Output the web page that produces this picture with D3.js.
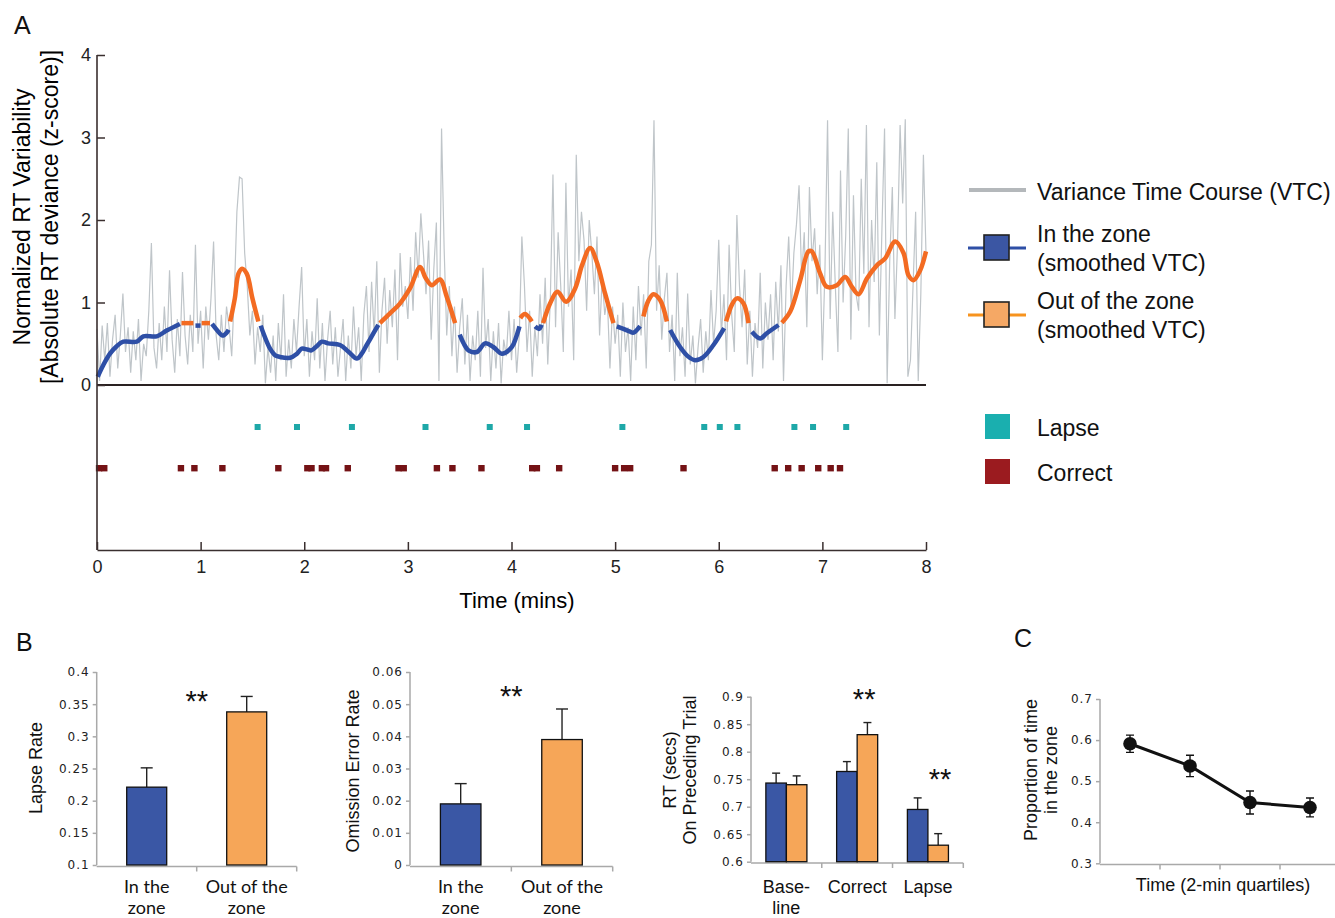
<!DOCTYPE html>
<html>
<head>
<meta charset="utf-8">
<script src="https://cdn.jsdelivr.net/npm/d3@7"></script>
<style>
  body { margin: 0; background: #fff; }
  svg { display: block; font-family: "Liberation Sans", Arial, sans-serif; }
</style>
</head>
<body>
<div class="canvas"></div>
<script>
// ---------- data ----------
// raw variance time course, one value every 0.025 min
const vtcStep = 0.025;
const vtc = [
  0.68,0.05,0.72,0.30,0.75,0.10,0.55,0.85,0.20,0.60,1.11,0.40,0.70,0.15,0.65,0.30,0.80,0.05,0.50,0.35,
  0.90,1.72,0.45,0.20,0.75,0.30,0.95,0.40,1.39,0.55,0.15,0.80,0.35,1.37,0.60,0.25,0.85,0.40,1.70,0.50,
  0.90,0.20,0.95,0.55,1.05,1.74,0.60,0.30,0.85,0.40,0.95,0.70,0.35,1.10,2.10,2.52,2.50,1.60,1.20,0.60,
  0.90,0.25,0.70,0.40,0.85,0.02,0.45,0.15,0.60,0.05,0.75,0.30,1.10,0.10,0.55,0.20,0.80,0.40,0.95,1.43,
  0.35,0.80,0.10,0.65,0.30,1.05,0.20,0.75,0.05,0.55,0.90,0.25,0.70,0.10,0.45,0.80,0.05,0.60,0.20,0.95,
  0.35,0.70,0.05,0.85,1.20,0.40,1.25,0.60,1.50,0.15,0.90,1.30,0.50,1.15,0.70,1.40,0.30,1.60,0.95,1.20,
  0.80,1.55,0.90,1.85,1.30,2.08,1.60,1.10,1.75,0.55,1.40,1.97,0.05,3.11,1.65,0.60,1.20,0.35,0.95,0.15,
  0.70,1.05,0.25,0.85,0.05,0.60,0.30,0.90,0.10,1.42,0.45,0.80,0.05,0.65,0.20,0.75,0.02,0.55,0.35,0.90,
  0.30,0.80,0.15,0.60,1.80,1.20,0.40,0.90,0.10,0.70,0.35,1.10,0.50,1.30,0.25,1.05,2.55,0.70,1.85,1.20,
  0.40,2.45,0.95,1.40,0.30,2.79,1.50,2.10,1.75,0.90,2.00,1.60,1.10,1.80,0.60,1.30,0.85,1.05,0.20,0.95,
  0.50,0.85,0.10,1.00,0.40,0.70,0.05,0.95,0.30,1.20,0.60,1.10,0.20,1.50,1.70,3.21,0.90,1.45,0.55,1.05,
  1.36,0.40,0.85,0.05,1.36,0.35,0.70,0.10,1.11,0.25,0.60,0.02,0.45,0.80,0.15,0.65,0.30,1.15,0.50,0.90,
  1.76,0.60,1.10,0.30,1.70,0.85,0.40,2.06,1.20,0.70,1.40,0.25,0.90,0.10,0.75,0.45,1.36,0.20,1.00,0.55,
  1.10,0.30,1.25,0.65,1.45,0.05,1.20,1.80,0.90,1.60,1.95,2.42,1.30,1.85,0.70,2.40,1.50,1.90,1.10,1.70,
  0.30,1.40,3.21,0.80,2.10,1.20,0.40,2.60,1.00,1.80,3.11,0.55,2.30,1.10,0.90,2.50,1.35,3.15,0.70,2.00,
  1.25,2.70,0.60,1.90,3.11,0.02,1.50,2.40,0.80,1.70,3.15,2.20,3.22,0.10,0.30,1.20,2.10,0.05,1.10,2.79,
  1.60
];

// smoothed VTC, [minute, value], split into in-the-zone and out-of-the-zone runs
const inZoneSegs = [
  [[0.007,0.10],[0.06,0.24],[0.125,0.38],[0.19,0.47],[0.254,0.525],[0.383,0.525],[0.447,0.59],[0.576,0.59],[0.672,0.66],[0.80,0.74]],
  [[0.95,0.72],[1.0,0.72]],
  [[1.11,0.74],[1.155,0.67],[1.213,0.60],[1.255,0.64],[1.27,0.67]],
  [[1.58,0.72],[1.605,0.63],[1.67,0.44],[1.72,0.36],[1.766,0.34],[1.863,0.33],[1.93,0.38],[1.976,0.44],[2.03,0.43],[2.07,0.42],[2.12,0.47],[2.17,0.525],[2.23,0.505],[2.345,0.485],[2.43,0.40],[2.507,0.32],[2.555,0.38],[2.603,0.485],[2.66,0.61],[2.715,0.73]],
  [[3.50,0.61],[3.54,0.50],[3.584,0.42],[3.665,0.40],[3.745,0.505],[3.825,0.46],[3.906,0.38],[4.003,0.46],[4.045,0.58],[4.077,0.71]],
  [[4.228,0.71],[4.266,0.68],[4.29,0.73]],
  [[5.016,0.71],[5.08,0.68],[5.145,0.646],[5.177,0.635],[5.241,0.715]],
  [[5.531,0.667],[5.627,0.46],[5.70,0.35],[5.772,0.30],[5.852,0.34],[5.949,0.485],[6.052,0.69]],
  [[6.32,0.646],[6.40,0.565],[6.464,0.627],[6.577,0.727]]
];
const outZoneSegs = [
  [[0.815,0.75],[0.93,0.75]],
  [[1.01,0.75],[1.09,0.75]],
  [[1.285,0.77],[1.33,1.05],[1.365,1.35],[1.40,1.41],[1.445,1.35],[1.50,1.05],[1.557,0.77]],
  [[2.73,0.75],[2.83,0.87],[2.925,0.99],[3.02,1.17],[3.118,1.43],[3.17,1.30],[3.23,1.21],[3.31,1.28],[3.375,1.07],[3.456,0.75]],
  [[4.085,0.81],[4.13,0.86],[4.196,0.77]],
  [[4.305,0.75],[4.373,0.99],[4.443,1.13],[4.527,1.01],[4.614,1.17],[4.68,1.45],[4.759,1.66],[4.823,1.49],[4.903,1.11],[4.984,0.75]],
  [[5.273,0.83],[5.32,1.02],[5.37,1.10],[5.434,1.03],[5.499,0.77]],
  [[6.071,0.77],[6.13,0.98],[6.175,1.05],[6.238,0.99],[6.287,0.75]],
  [[6.609,0.755],[6.69,0.89],[6.786,1.27],[6.866,1.62],[6.898,1.62],[6.979,1.35],[7.043,1.19],[7.14,1.21],[7.22,1.31],[7.285,1.19],[7.349,1.10],[7.43,1.29],[7.526,1.45],[7.606,1.535],[7.703,1.74],[7.783,1.60],[7.831,1.33],[7.88,1.27],[7.944,1.39],[8.0,1.62]]
];

// trial events (minutes)
const lapseTimes = [1.55,1.93,2.46,3.17,3.79,4.15,5.07,5.86,6.01,6.18,6.73,6.91,7.23];
const correctTimes = [0.02,0.07,0.81,0.94,1.21,1.75,2.03,2.07,2.17,2.21,2.42,2.91,2.96,3.28,3.43,3.71,
  4.20,4.245,4.46,5.00,5.087,5.145,5.66,6.54,6.67,6.80,6.96,7.08,7.17];

// panel B
const zoneLabels = ['In the\nzone', 'Out of the\nzone'];
const lapseRate = [0.221, 0.338];
const lapseErr = [0.030, 0.024];
const omissionRate = [0.019, 0.039];
const omissionErr = [0.0063, 0.0095];
const rtCats = ['Base-\nline', 'Correct', 'Lapse'];
const rtIn = [0.743, 0.764, 0.695];
const rtInErr = [0.018, 0.018, 0.021];
const rtOut = [0.740, 0.831, 0.630];
const rtOutErr = [0.016, 0.022, 0.021];

// panel C
const quartiles = [1, 2, 3, 4];
const propInZone = [0.591, 0.537, 0.448, 0.436];
const propErr = [0.021, 0.026, 0.028, 0.023];

// ---------- colours ----------
const blueLine = '#2e4fa6';
const orangeLine = '#f36b22';
const blueBar = '#3a57a5';
const orangeBar = '#f6a658';
const axisDark = '#3a2f2f';
const axisGrey = '#a9a9a9';

const svg = d3.select('.canvas')
  .append('svg')
    .attr('width', 1335)
    .attr('height', 918);

// panel letters
[['A', 14, 34], ['B', 16, 651], ['C', 1014, 647]].forEach(([t, x, y]) => {
  svg.append('text').attr('x', x).attr('y', y)
    .attr('font-size', 25).attr('fill', '#111').text(t);
});

// ================= panel A =================
const xA = d3.scaleLinear().domain([0, 8]).range([97, 926]);
const yA = d3.scaleLinear().domain([0, 4]).range([385, 55]);
const gA = svg.append('g');

// raw VTC
const vtcLine = d3.line()
  .x((d, i) => xA(i * vtcStep))
  .y(d => yA(d));

gA.append('path')
  .datum(vtc)
  .attr('fill', 'none')
  .attr('stroke', '#bfc5c9')
  .attr('stroke-width', 1.2)
  .attr('d', vtcLine);

// smoothed VTC
const smooth = d3.line()
  .x(d => xA(d[0]))
  .y(d => yA(d[1]))
  .curve(d3.curveCatmullRom);

gA.selectAll('.inzone')
  .data(inZoneSegs)
  .join('path')
    .attr('class', 'inzone')
    .attr('fill', 'none')
    .attr('stroke', blueLine)
    .attr('stroke-width', 4.5)
    .attr('d', smooth);

gA.selectAll('.outzone')
  .data(outZoneSegs)
  .join('path')
    .attr('class', 'outzone')
    .attr('fill', 'none')
    .attr('stroke', orangeLine)
    .attr('stroke-width', 4.5)
    .attr('d', smooth);

// zero baseline
gA.append('line')
  .attr('x1', xA(0)).attr('x2', xA(8))
  .attr('y1', yA(0)).attr('y2', yA(0))
  .attr('stroke', '#2a2222')
  .attr('stroke-width', 2);

// event markers
gA.selectAll('.lapse')
  .data(lapseTimes)
  .join('rect')
    .attr('x', d => xA(d) - 3)
    .attr('y', 424)
    .attr('width', 6)
    .attr('height', 6)
    .attr('fill', '#1ea8a8');

gA.selectAll('.correct')
  .data(correctTimes)
  .join('rect')
    .attr('x', d => xA(d) - 3.2)
    .attr('y', 465)
    .attr('width', 6.4)
    .attr('height', 6.4)
    .attr('fill', '#741215');

// y axis
const yAxisA = gA.append('g')
  .attr('transform', `translate(${xA(0)},0)`)
  .call(d3.axisLeft(yA).ticks(4).tickSize(-8).tickPadding(6));
yAxisA.select('.domain').remove();
yAxisA.selectAll('line').attr('stroke', axisDark).attr('stroke-width', 1.5);
yAxisA.selectAll('text')
  .attr('font-size', 18).attr('fill', '#222')
  .attr('font-family', '"Liberation Sans", Arial, sans-serif');

gA.append('line')
  .attr('x1', xA(0)).attr('x2', xA(0))
  .attr('y1', 55).attr('y2', 550)
  .attr('stroke', axisDark)
  .attr('stroke-width', 1.6);

// x axis
const xAxisA = gA.append('g')
  .attr('transform', 'translate(0,550)')
  .call(d3.axisBottom(xA).ticks(8).tickSize(-8).tickPadding(10).tickSizeOuter(0));
xAxisA.select('.domain').attr('stroke', axisDark).attr('stroke-width', 1.6);
xAxisA.selectAll('line').attr('stroke', axisDark).attr('stroke-width', 1.5);
xAxisA.selectAll('text')
  .attr('font-size', 18).attr('fill', '#222')
  .attr('font-family', '"Liberation Sans", Arial, sans-serif');

gA.append('text')
  .attr('x', 517).attr('y', 608)
  .attr('text-anchor', 'middle')
  .attr('font-size', 22)
  .text('Time (mins)');

// y title
[['Normalized RT Variability', 30], ['[Absolute RT deviance (z-score)]', 58]].forEach(([t, x]) => {
  gA.append('text')
    .attr('transform', `translate(${x},217) rotate(-90)`)
    .attr('text-anchor', 'middle')
    .attr('font-size', 23)
    .text(t);
});

// legend
const lg = svg.append('g').attr('font-size', 23).attr('fill', '#111');
lg.append('line').attr('x1', 969).attr('x2', 1026).attr('y1', 190).attr('y2', 190)
  .attr('stroke', '#b4b8bb').attr('stroke-width', 4);
lg.append('text').attr('x', 1037).attr('y', 200).text('Variance Time Course (VTC)');

[[248, blueLine, '#3b56a3', 'In the zone'], [315, '#f7931e', '#f5a865', 'Out of the zone']].forEach(([y, lc, fc, t]) => {
  lg.append('line').attr('x1', 968).attr('x2', 1026).attr('y1', y).attr('y2', y)
    .attr('stroke', lc).attr('stroke-width', 3);
  lg.append('rect').attr('x', 984).attr('y', y - 13).attr('width', 25).attr('height', 25)
    .attr('fill', fc).attr('stroke', '#222').attr('stroke-width', 1.6);
  lg.append('text').attr('x', 1037).attr('y', y - 6).text(t);
  lg.append('text').attr('x', 1037).attr('y', y + 23).text('(smoothed VTC)');
});

[[414, '#1aafaf', 'Lapse'], [459, '#9b1b1f', 'Correct']].forEach(([y, c, t]) => {
  lg.append('rect').attr('x', 985).attr('y', y).attr('width', 25).attr('height', 25).attr('fill', c);
  lg.append('text').attr('x', 1037).attr('y', y + 22).text(t);
});

// ================= panel B =================
const tickFont = '"DejaVu Sans", Verdana, sans-serif';

function leftAxis(g, y, x0, tickVals) {
  g.append('line').attr('x1', x0).attr('x2', x0)
    .attr('y1', y.range()[1]).attr('y2', y.range()[0])
    .attr('stroke', axisGrey).attr('stroke-width', 1.5);
  const ax = g.append('g')
    .attr('transform', `translate(${x0},0)`)
    .call(d3.axisLeft(y).tickValues(tickVals).tickSize(4).tickPadding(3)
      .tickFormat(d => String(+d.toFixed(2))));
  ax.select('.domain').remove();
  ax.selectAll('line').attr('stroke', axisGrey).attr('stroke-width', 1.5);
  ax.selectAll('text')
    .attr('font-family', tickFont)
    .attr('font-size', 12)
    .attr('letter-spacing', 1)
    .attr('fill', '#222');
}

function bottomAxis(g, xb, y0) {
  const [a, b] = xb.range();
  g.append('line').attr('x1', a).attr('x2', b).attr('y1', y0).attr('y2', y0)
    .attr('stroke', axisGrey).attr('stroke-width', 1.5);
  g.selectAll(null)
    .data(xb.domain().slice(1).map(c => xb(c)).concat([b]))
    .join('line')
      .attr('x1', d => d).attr('x2', d => d)
      .attr('y1', y0).attr('y2', y0 + 5)
      .attr('stroke', axisGrey).attr('stroke-width', 1.5);
}

function catLabels(g, xb, labels, y0, font) {
  labels.forEach((lab, i) => {
    lab.split('\n').forEach((line, j) => {
      g.append('text')
        .attr('x', xb(xb.domain()[i]) + xb.bandwidth() / 2)
        .attr('y', y0 + j * 21)
        .attr('text-anchor', 'middle')
        .attr('font-family', font)
        .attr('font-size', 18)
        .attr('fill', '#111')
        .text(line);
    });
  });
}

function bar(g, x, w, y, v, err, fill, cap) {
  const base = y.domain()[0];
  g.append('line')
    .attr('x1', x + w / 2).attr('x2', x + w / 2)
    .attr('y1', y(v)).attr('y2', y(v + err))
    .attr('stroke', '#222').attr('stroke-width', 1.4);
  g.append('line')
    .attr('x1', x + w / 2 - cap / 2).attr('x2', x + w / 2 + cap / 2)
    .attr('y1', y(v + err)).attr('y2', y(v + err))
    .attr('stroke', '#222').attr('stroke-width', 1.4);
  g.append('rect')
    .attr('x', x).attr('width', w)
    .attr('y', y(v)).attr('height', y(base) - y(v))
    .attr('fill', fill)
    .attr('stroke', '#111')
    .attr('stroke-width', 1.3);
}

function stars(g, x, y) {
  g.append('text')
    .attr('x', x).attr('y', y)
    .attr('text-anchor', 'middle')
    .attr('font-size', 29)
    .attr('fill', '#111')
    .text('**');
}

function yTitle(g, lines, x, yc) {
  lines.forEach((t, i) => {
    g.append('text')
      .attr('transform', `translate(${x + i * 20},${yc}) rotate(-90)`)
      .attr('text-anchor', 'middle')
      .attr('font-size', 18)
      .attr('fill', '#111')
      .text(t);
  });
}

// B1: lapse rate
const gB1 = svg.append('g');
const xB1 = d3.scaleBand().domain(d3.range(zoneLabels.length)).range([96.7, 296.7]);
const yB1 = d3.scaleLinear().domain([0.1, 0.4]).range([865, 672]);
leftAxis(gB1, yB1, 96.7, d3.range(0.1, 0.401, 0.05));
bottomAxis(gB1, xB1, 866.5);
lapseRate.forEach((v, i) => bar(gB1, xB1(i) + xB1.bandwidth() * 0.3, xB1.bandwidth() * 0.4,
  yB1, v, lapseErr[i], i === 0 ? blueBar : orangeBar, 12));
catLabels(gB1, xB1, zoneLabels, 893, 'Lato, "Open Sans", sans-serif');
stars(gB1, xB1(1), yB1(0.34));
yTitle(gB1, ['Lapse Rate'], 42, 768);

// B2: omission error rate
const gB2 = svg.append('g');
const xB2 = d3.scaleBand().domain(d3.range(zoneLabels.length)).range([410, 612.7]);
const yB2 = d3.scaleLinear().domain([0, 0.06]).range([865, 672]);
leftAxis(gB2, yB2, 410, d3.range(0, 0.0601, 0.01));
bottomAxis(gB2, xB2, 866.5);
omissionRate.forEach((v, i) => bar(gB2, xB2(i) + xB2.bandwidth() * 0.3, xB2.bandwidth() * 0.4,
  yB2, v, omissionErr[i], i === 0 ? blueBar : orangeBar, 12));
catLabels(gB2, xB2, zoneLabels, 893, 'Lato, "Open Sans", sans-serif');
stars(gB2, xB2(1), yB2(0.0495));
yTitle(gB2, ['Omission Error Rate'], 359, 771);

// B3: RT on preceding trial
const gB3 = svg.append('g');
const xB3 = d3.scaleBand().domain(d3.range(rtCats.length)).range([751, 963.3]);
const yB3 = d3.scaleLinear().domain([0.6, 0.9]).range([861.7, 696.7]);
leftAxis(gB3, yB3, 751, d3.range(0.6, 0.901, 0.05));
bottomAxis(gB3, xB3, 863);
rtCats.forEach((c, i) => {
  const cx = xB3(i) + xB3.bandwidth() / 2;
  const bw = xB3.bandwidth() * 0.29;
  bar(gB3, cx - bw, bw, yB3, rtIn[i], rtInErr[i], blueBar, 8);
  bar(gB3, cx, bw, yB3, rtOut[i], rtOutErr[i], orangeBar, 8);
});
catLabels(gB3, xB3, rtCats, 893, '"Liberation Sans", Arial, sans-serif');
stars(gB3, xB3(1) + xB3.bandwidth() / 2 + 7, yB3(0.878));
stars(gB3, xB3(2) + xB3.bandwidth() / 2 + 12, yB3(0.733));
yTitle(gB3, ['RT (secs)', 'On Preceding Trial'], 676, 770);

// ================= panel C =================
const gC = svg.append('g');
const xC = d3.scaleBand().domain(quartiles).range([1100, 1340]);
const yC = d3.scaleLinear().domain([0.3, 0.7]).range([863.3, 699]);
leftAxis(gC, yC, 1100, d3.range(0.3, 0.701, 0.1));
gC.append('line').attr('x1', 1100).attr('x2', 1335).attr('y1', 864.5).attr('y2', 864.5)
  .attr('stroke', axisGrey).attr('stroke-width', 1.5);
gC.selectAll(null)
  .data(quartiles.slice(1))
  .join('line')
    .attr('x1', d => xC(d)).attr('x2', d => xC(d))
    .attr('y1', 864.5).attr('y2', 869.5)
    .attr('stroke', axisGrey).attr('stroke-width', 1.5);

const cx = d => xC(d) + xC.bandwidth() / 2;
const pts = quartiles.map((q, i) => ({ q, v: propInZone[i], e: propErr[i] }));

gC.selectAll('.err')
  .data(pts)
  .join('path')
    .attr('fill', 'none')
    .attr('stroke', '#111')
    .attr('stroke-width', 1.4)
    .attr('d', d => {
      const x = cx(d.q), y1 = yC(d.v + d.e), y2 = yC(d.v - d.e);
      return `M${x - 4},${y1}H${x + 4}M${x},${y1}V${y2}M${x - 4},${y2}H${x + 4}`;
    });

gC.append('path')
  .datum(pts)
  .attr('fill', 'none')
  .attr('stroke', '#111')
  .attr('stroke-width', 3)
  .attr('d', d3.line().x(d => cx(d.q)).y(d => yC(d.v)));

gC.selectAll('.dot')
  .data(pts)
  .join('circle')
    .attr('cx', d => cx(d.q))
    .attr('cy', d => yC(d.v))
    .attr('r', 6.8)
    .attr('fill', '#111');

yTitle(gC, ['Proportion of time', 'in the zone'], 1037, 770);
gC.append('text')
  .attr('x', 1223).attr('y', 891)
  .attr('text-anchor', 'middle')
  .attr('font-size', 18)
  .attr('fill', '#111')
  .text('Time (2-min quartiles)');
</script>
</body>
</html>
